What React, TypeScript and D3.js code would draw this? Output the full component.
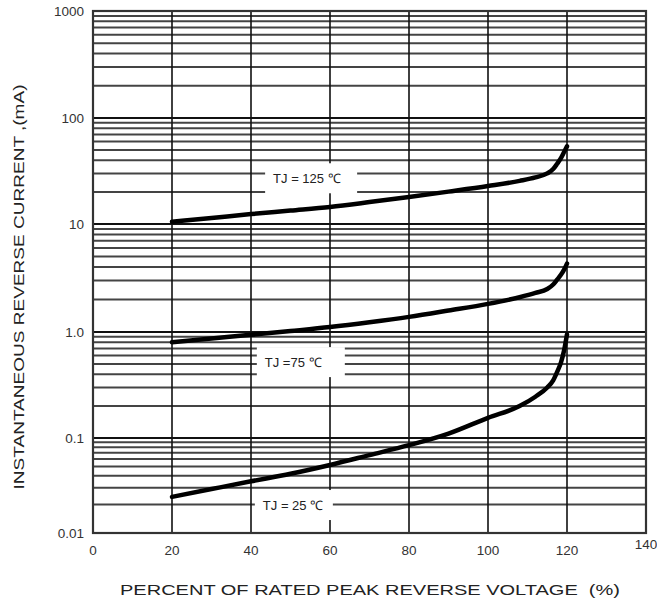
import React from "react";
import * as d3 from "d3";

const xTicks = [0, 20, 40, 60, 80, 100, 120, 140];
const yMajor = [0.01, 0.1, 1, 10, 100, 1000];
const yTickLabels = ["0.01", "0.1", "1.0", "10", "100", "1000"];

const seriesNames = ["TJ = 125 ℃", "TJ =75 ℃", "TJ = 25 ℃"];

const pct = [20, 30, 40, 50, 60, 70, 80, 90, 100, 108, 112, 115, 116.5, 117.5, 118.5, 119.3, 120];
const tj125 = [10.5, 11.4, 12.4, 13.4, 14.5, 16.1, 18, 20.2, 22.8, 25.5, 27.5, 30, 33, 37, 42, 48, 54];
const tj75 = [0.8, 0.87, 0.94, 1.02, 1.11, 1.23, 1.38, 1.58, 1.82, 2.1, 2.3, 2.5, 2.75, 3.05, 3.4, 3.8, 4.3];
const tj25 = [0.024, 0.029, 0.035, 0.042, 0.052, 0.066, 0.084, 0.11, 0.155, 0.2, 0.245, 0.3, 0.35, 0.42, 0.52, 0.68, 0.95];

// label text start positions (data coords): [x%, current]
const labelPos: [number, number][] = [
  [45.6, 27],
  [43.5, 0.52],
  [43, 0.0197],
];

export default function App() {
  const W = 657;
  const H = 603;
  const x = d3.scaleLinear().domain([0, 140]).range([93, 646]);
  // reference grid has slightly uneven decades
  const y = d3
    .scaleLog()
    .domain(yMajor)
    .range([533, 438, 332, 224, 118, 11]);

  const minors: number[] = [];
  for (let i = 0; i < yMajor.length - 1; i++) {
    for (let k = 2; k <= 9; k++) minors.push(yMajor[i] * k);
  }

  const line = d3
    .line<[number, number]>()
    .x((d) => x(d[0]))
    .y((d) => y(d[1]))
    .curve(d3.curveMonotoneX);

  const series = [tj125, tj75, tj25].map((vals) => pct.map((p, i) => [p, vals[i]] as [number, number]));

  const font = "Liberation Sans, Arial, sans-serif";
  const labelBoxW = [92, 88, 78];

  return (
    <svg
      width={W}
      height={H}
      style={{ position: "absolute", left: 0, top: 0, background: "#fff" }}
      fontFamily={font}
    >
      <rect x={0} y={0} width={W} height={H} fill="#fff" />
      {/* minor horizontal grid */}
      {minors.map((v, i) => (
        <line key={"m" + i} x1={x(0)} x2={x(140)} y1={y(v)} y2={y(v)} stroke="#444" strokeWidth={2} />
      ))}
      {/* major horizontal grid */}
      {yMajor.map((v, i) => (
        <line key={"M" + i} x1={x(0)} x2={x(140)} y1={y(v)} y2={y(v)} stroke="#111" strokeWidth={2} />
      ))}
      {/* vertical grid */}
      {xTicks.slice(1, -1).map((t) => (
        <line key={"v" + t} x1={x(t)} x2={x(t)} y1={y(1000)} y2={y(0.01)} stroke="#111" strokeWidth={1.6} />
      ))}
      {/* border */}
      <rect
        x={x(0)}
        y={y(1000)}
        width={x(140) - x(0)}
        height={y(0.01) - y(1000)}
        fill="none"
        stroke="#333"
        strokeWidth={2.2}
      />
      {/* label boxes */}
      {labelPos.map((p, i) => (
        <rect
          key={"lb" + i}
          x={x(p[0]) - 8}
          y={y(p[1]) - 15}
          width={labelBoxW[i]}
          height={30}
          fill="#fff"
        />
      ))}
      {/* curves */}
      {series.map((s, i) => (
        <path key={"s" + i} d={line(s) || ""} fill="none" stroke="#000" strokeWidth={4.5} strokeLinecap="round" />
      ))}
      {/* curve labels */}
      {labelPos.map((p, i) => (
        <text key={"lt" + i} x={x(p[0])} y={y(p[1])} dy="0.35em" fontSize={13} fill="#222">
          {seriesNames[i]}
        </text>
      ))}
      {/* y tick labels */}
      {yMajor.map((v, i) => (
        <text key={"yl" + i} x={84} y={y(v)} dy="0.35em" textAnchor="end" fontSize={13.5} fill="#333">
          {yTickLabels[i]}
        </text>
      ))}
      {/* x tick labels */}
      {xTicks.map((t) => (
        <text
          key={"xl" + t}
          x={x(t)}
          y={t === 140 ? 544 : 550}
          dy="0.35em"
          textAnchor="middle"
          fontSize={13.5}
          fill="#333"
        >
          {t}
        </text>
      ))}
      {/* axis titles */}
      <text
        x={370}
        y={595}
        textAnchor="middle"
        fontSize={15.5}
        fill="#222"
        textLength={500}
        lengthAdjust="spacingAndGlyphs"
      >
        PERCENT OF RATED PEAK REVERSE VOLTAGE{"\u00a0\u00a0"}(%)
      </text>
      <text
        transform="translate(24,287) rotate(-90)"
        textAnchor="middle"
        fontSize={15.5}
        fill="#222"
        textLength={405}
        lengthAdjust="spacingAndGlyphs"
      >
        INSTANTANEOUS REVERSE CURRENT ,(mA)
      </text>
    </svg>
  );
}
